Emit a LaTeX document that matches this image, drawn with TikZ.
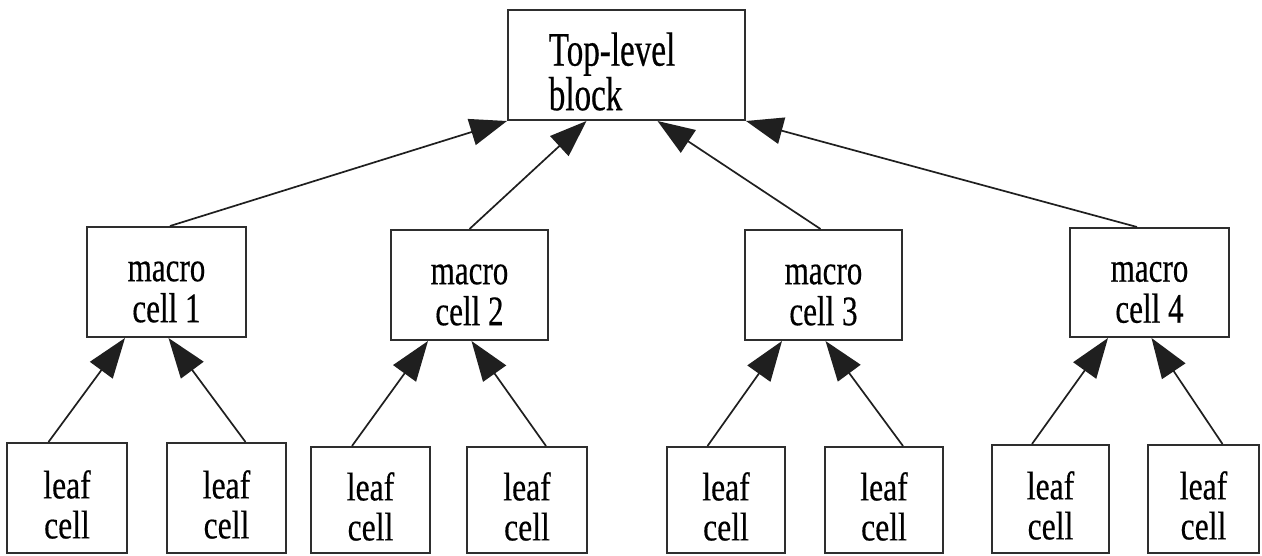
\documentclass[tikz,border=0pt]{standalone}
\usepackage{fontspec}
\usetikzlibrary{arrows.meta}
\newfontfamily\topfont[FakeStretch=0.69,FakeBold=0.4]{Liberation Serif}
\newfontfamily\macrofont[FakeStretch=0.74,FakeBold=0.4]{Liberation Serif}
\newfontfamily\leaffont[FakeStretch=0.79,FakeBold=0.4]{Liberation Serif}
\tikzset{
  cellbox/.style={draw=black!82, line width=2pt, inner sep=0pt},
  toptext/.style={inner sep=0pt, align=left, font=\topfont\fontsize{48}{42}\selectfont},
  macrotext/.style={inner sep=0pt, align=center, font=\macrofont\fontsize{42}{41}\selectfont},
  leaftext/.style={inner sep=0pt, align=center, font=\leaffont\fontsize{40}{40}\selectfont},
  uplink/.style={draw=black!88, line width=1.7pt,
    -{Triangle[length=37pt,width=27pt]}},
  leaflink/.style={uplink, -{Triangle[length=40pt,width=28pt]}},
}
\begin{document}
\begin{tikzpicture}[x=1pt,y=-1pt]
\useasboundingbox (0,0) rectangle (1262,555);
\fill[white] (0,0) rectangle (1262,555);

% boxes: (left,top) rectangle (right,bottom)
\newcommand{\cellat}[5]{%
  \node[cellbox, minimum width=#4-#2, minimum height=#5-#3]
    (#1) at ({(#2+#4)/2},{(#3+#5)/2}) {};}

\cellat{T}{508}{10}{745}{120}
\cellat{M1}{87}{227}{246}{337}
\cellat{M2}{391}{230}{548}{340}
\cellat{M3}{745}{230}{902}{340}
\cellat{M4}{1070}{228}{1229}{337}
\cellat{L1}{7}{443}{127}{553}
\cellat{L2}{167}{443}{286}{553}
\cellat{L3}{311}{447}{430}{553}
\cellat{L4}{467}{447}{587}{553}
\cellat{L5}{667}{447}{785}{553}
\cellat{L6}{825}{447}{943}{553}
\cellat{L7}{992}{445}{1109}{553}
\cellat{L8}{1148}{445}{1259}{553}

% labels
\node[toptext] (Tt) at ([xshift=-14.5pt,yshift=-6.5pt]T.center) {Top-level\\block};
\foreach \i in {1,...,4}
  \node[macrotext] (M\i t) at ([yshift=-10pt]M\i.center) {macro\\cell \i};
\foreach \i in {1,...,8}
  \node[leaftext] (L\i t) at ([yshift=-6.5pt]L\i.center) {leaf\\cell};

% macro cells up to the top-level block
\draw[uplink] ([xshift=3.5pt]M1.north) -- (T.south west);
\draw[uplink] (M2.north) -- ([xshift=-40pt]T.south);
\draw[uplink] ([xshift=-3pt]M3.north) -- ([xshift=31pt]T.south);
\draw[uplink] ([xshift=-12.5pt]M4.north) -- (T.south east);

% leaf cells up to their macro cell
\foreach \m/\a/\b in {1/1/2, 2/3/4, 3/5/6, 4/7/8} {
  \draw[leaflink] ([xshift=-18.5pt]L\a.north) -- ([xshift=-41.5pt]M\m.south);
  \draw[leaflink] ([xshift=19pt]L\b.north) -- ([xshift=2pt]M\m.south);
}
\end{tikzpicture}
\end{document}
